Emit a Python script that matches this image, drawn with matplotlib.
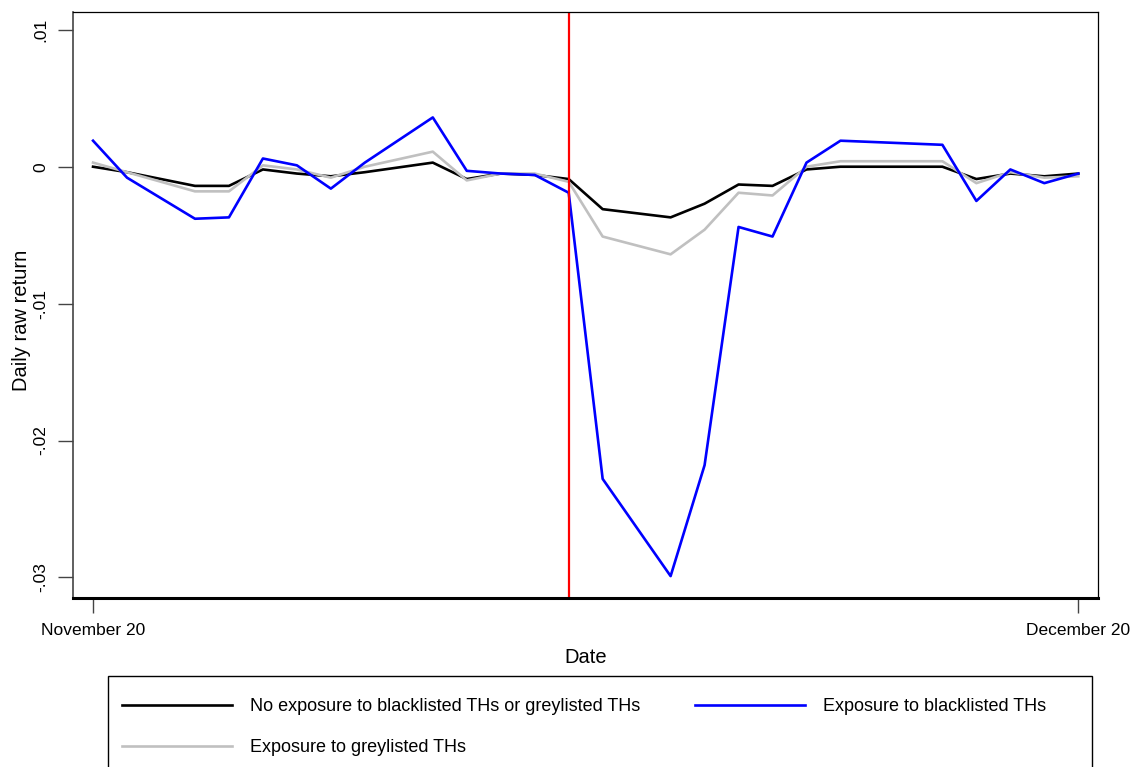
import matplotlib
matplotlib.use("Agg")
import matplotlib.pyplot as plt
from matplotlib.patches import Rectangle

plt.rcParams['font.family'] = ['Liberation Sans', 'DejaVu Sans']

# day index from November 20 (trading days only, gaps are closed days)
days = [0, 1, 3, 4, 5, 6, 7, 8, 10, 11, 12, 13, 14, 15, 17, 18, 19, 20, 21, 22,
        25, 26, 27, 28, 29]

no_exposure = [0.0, -0.0004, -0.0014, -0.0014, -0.0002, -0.0005, -0.0007, -0.0004,
               0.0003, -0.0009, -0.0005, -0.0006, -0.0009, -0.0031, -0.0037, -0.0027,
               -0.0013, -0.0014, -0.0002, 0.0, 0.0, -0.0009, -0.0005, -0.0007, -0.0005]

blacklisted = [0.0019, -0.0008, -0.0038, -0.0037, 0.0006, 0.0001, -0.0016, 0.0003,
               0.0036, -0.0003, -0.0005, -0.0006, -0.0019, -0.0228, -0.0299, -0.0218,
               -0.0044, -0.0051, 0.0003, 0.0019, 0.0016, -0.0025, -0.0002, -0.0012, -0.0005]

greylisted = [0.0003, -0.0004, -0.0018, -0.0018, 0.0001, -0.0002, -0.0008, 0.0,
              0.0011, -0.0010, -0.0005, -0.0005, -0.0011, -0.0051, -0.0064, -0.0046,
              -0.0019, -0.0021, 0.0, 0.0004, 0.0004, -0.0012, -0.0004, -0.0008, -0.0007]

event_day = 14
tick_days = [0, 29]
tick_labels = ["November 20", "December 20"]
y_ticks = [0.01, 0, -0.01, -0.02, -0.03]
y_labels = [".01", "0", "-.01", "-.02", "-.03"]

W, H = 1143, 767
fig = plt.figure(figsize=(W / 100, H / 100), dpi=100)
ax = fig.add_axes([73 / W, 1 - 598 / H, (1098 - 73) / W, (598 - 12) / H])

l_black, = ax.plot(days, no_exposure, color="black", lw=1.9,
                   label="No exposure to blacklisted THs or greylisted THs")
l_grey, = ax.plot(days, greylisted, color="#c0c0c0", lw=1.9,
                  label="Exposure to greylisted THs")
l_blue, = ax.plot(days, blacklisted, color="#0000ff", lw=1.9,
                  label="Exposure to blacklisted THs")
ax.axvline(event_day, color="#ff0000", lw=1.6)

ax.set_xlim(-0.59, 29.58)
ax.set_ylim(-0.0315, 0.0113)
ax.set_xticks(tick_days)
ax.set_xticklabels(tick_labels, fontsize=12.5)
ax.set_yticks(y_ticks)
ax.set_yticklabels(y_labels, fontsize=12.5, rotation=90, va="center")
ax.tick_params(axis="x", length=11, width=1, color="#444444", pad=7)
ax.tick_params(axis="y", length=11, width=1, color="#444444", pad=7)

ax.spines["bottom"].set_linewidth(2.2)
ax.spines["bottom"].set_color("black")
ax.spines["left"].set_linewidth(1.2)
ax.spines["left"].set_color("#444444")
ax.spines["top"].set_linewidth(0.9)
ax.spines["right"].set_linewidth(0.9)

ax.set_ylabel("Daily raw return", fontsize=14.5)
ax.yaxis.set_label_coords(-0.0405, 0.474)
ax.set_xlabel("Date", fontsize=14.5, labelpad=7)

# legend box drawn separately; it runs off the bottom of the figure
fig.patches.append(Rectangle((108 / W, -0.1), (1092 - 108) / W, 1 - 676 / H + 0.1,
                             transform=fig.transFigure, fill=False, ec="black", lw=1))
fig.legend(handles=[l_black, l_grey, l_blue], ncol=2,
           loc="upper left", bbox_to_anchor=(108 / W, 1 - 684 / H),
           frameon=False, fontsize=13, handlelength=6.1, handletextpad=1.0,
           labelspacing=1.33, borderpad=0.78, borderaxespad=0, columnspacing=3.0)

fig.savefig("out.png", dpi=100)
